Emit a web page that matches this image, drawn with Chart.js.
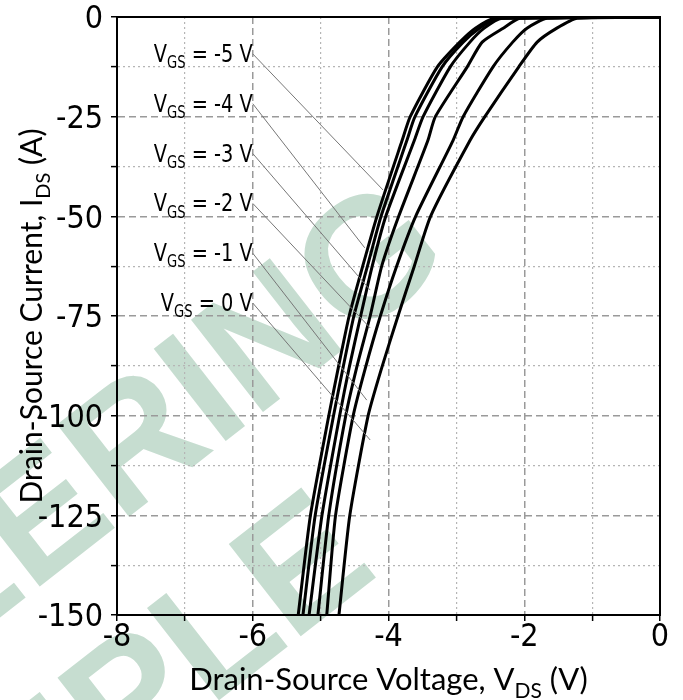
<!DOCTYPE html>
<html>
<head>
<meta charset="utf-8">
<script src="https://cdn.jsdelivr.net/npm/chart.js@4.4.1/dist/chart.umd.min.js"></script>
<style>
  html, body { margin: 0; padding: 0; background: #fff; }
</style>
</head>
<body>
<canvas id="chart" width="683" height="700"></canvas>
<script>
// drain current points (A), shared by every curve
const currents = [0, -0.3, -2.8, -6.3, -12.5, -25, -31, -50, -62.5, -75, -88, -100, -125, -150]

// drain-source voltage (V) for each gate voltage
const vdsGsN5 = [0, -2.43, -2.72, -2.95, -3.28, -3.68, -3.80, -4.17, -4.38, -4.58, -4.74, -4.88, -5.15, -5.33]
const vdsGsN4 = [0, -2.39, -2.66, -2.90, -3.21, -3.61, -3.73, -4.11, -4.31, -4.51, -4.67, -4.81, -5.08, -5.26]
const vdsGsN3 = [0, -2.33, -2.59, -2.80, -3.09, -3.49, -3.62, -4.04, -4.24, -4.41, -4.58, -4.72, -4.98, -5.17]
const vdsGsN2 = [0, -2.06, -2.31, -2.62, -2.84, -3.31, -3.42, -3.85, -4.10, -4.27, -4.47, -4.63, -4.88, -5.04]
const vdsGsN1 = [0, -1.66, -1.96, -2.17, -2.46, -2.90, -3.05, -3.60, -3.88, -4.12, -4.34, -4.52, -4.78, -4.91]
const vdsGs0  = [0, -1.22, -1.52, -1.81, -2.08, -2.58, -2.80, -3.38, -3.62, -3.86, -4.10, -4.30, -4.57, -4.73]

const gateLabels = ['-5 V', '-4 V', '-3 V', '-2 V', '-1 V', '0 V']
// label anchor (right end) and leader line end, in data units
const labelV = -6
const labelI = [-9, -21.5, -34, -46.5, -59, -71.5]
const leaderEndV = [-4.08, -4.35, -4.27, -4.27, -4.32, -4.27]
const leaderEndI = [-43.4, -57.9, -68.5, -78.0, -96.1, -106.1]

const narrow = '"Liberation Sans Narrow", "DejaVu Sans Condensed", sans-serif'
const wide = 'Lato, "Open Sans", sans-serif'

const toPoints = (vds) => vds.map((v, i) => ({ x: v, y: currents[i] }))

const allCurves = [vdsGsN5, vdsGsN4, vdsGsN3, vdsGsN2, vdsGsN1, vdsGs0]
const datasets = allCurves.map((vds, i) => ({
  label: 'VGS = ' + gateLabels[i],
  data: toPoints(vds),
  showLine: true,
  borderColor: '#000',
  borderWidth: 3,
  pointRadius: 0,
  tension: 0.2,
  fill: false
}))

// draw text made of normal and subscript parts
const drawParts = (ctx, parts, x, y, size, family, align, squeeze) => {
  const subSize = Math.round(size * 0.68)
  const k = squeeze || 1
  let total = 0
  parts.forEach(p => {
    ctx.font = (p.sub ? subSize : size) + 'px ' + family
    p.w = ctx.measureText(p.t).width
    total += p.w
  })
  ctx.save()
  ctx.translate(x, y)
  ctx.scale(k, 1)
  let cx = align === 'right' ? -total : align === 'center' ? -total / 2 : 0
  ctx.textAlign = 'left'
  ctx.textBaseline = 'alphabetic'
  parts.forEach(p => {
    ctx.font = (p.sub ? subSize : size) + 'px ' + family
    ctx.fillText(p.t, cx, p.sub ? size * 0.25 : 0)
    cx += p.w
  })
  ctx.restore()
}

const watermark = {
  id: 'watermark',
  beforeDraw(chart) {
    const ctx = chart.ctx
    ctx.save()
    ctx.fillStyle = '#fff'
    ctx.fillRect(0, 0, chart.width, chart.height)
    ctx.fillStyle = '#c6ddd0'
    ctx.font = 'bold 170px "Liberation Sans", Arial, sans-serif'
    ctx.textAlign = 'right'
    ctx.textBaseline = 'alphabetic'
    ctx.translate(455, 262)
    ctx.rotate(-38 * Math.PI / 180)
    ctx.fillText('ENGINEERING', 0, 0)
    ctx.fillText('SAMPLE', -250, 200)
    ctx.restore()
  }
}

const annotations = {
  id: 'annotations',
  afterDatasetsDraw(chart) {
    const { ctx, chartArea, scales } = chart
    const xs = scales.x, ys = scales.y
    ctx.save()
    // frame
    ctx.strokeStyle = '#000'
    ctx.lineWidth = 2
    ctx.strokeRect(chartArea.left, chartArea.top, chartArea.right - chartArea.left, chartArea.bottom - chartArea.top)
    // leader lines
    ctx.strokeStyle = '#777'
    ctx.lineWidth = 1
    gateLabels.forEach((g, i) => {
      ctx.beginPath()
      ctx.moveTo(xs.getPixelForValue(labelV), ys.getPixelForValue(labelI[i]) + 1)
      ctx.lineTo(xs.getPixelForValue(leaderEndV[i]), ys.getPixelForValue(leaderEndI[i]))
      ctx.stroke()
    })
    // labels
    ctx.fillStyle = '#000'
    gateLabels.forEach((g, i) => {
      const x = xs.getPixelForValue(labelV)
      const y = ys.getPixelForValue(labelI[i]) + 9
      drawParts(ctx, [{ t: 'V' }, { t: 'GS', sub: true }, { t: ' = ' + g }], x, y, 25, narrow, 'right', 0.86)
    })
    ctx.restore()
  },
  afterDraw(chart) {
    const { ctx, chartArea } = chart
    ctx.save()
    ctx.fillStyle = '#000'
    const cx = (chartArea.left + chartArea.right) / 2
    drawParts(ctx, [{ t: 'Drain-Source Voltage, V' }, { t: 'DS', sub: true }, { t: ' (V)' }], cx, 690, 31, wide, 'center')
    ctx.translate(42, (chartArea.top + chartArea.bottom) / 2)
    ctx.rotate(-Math.PI / 2)
    drawParts(ctx, [{ t: 'Drain-Source Current, I' }, { t: 'DS', sub: true }, { t: ' (A)' }], 0, 0, 30, wide, 'center')
    ctx.restore()
  }
}

const isMajorX = (v) => Math.abs(v % 2) < 1e-6
const isMajorY = (v) => Math.abs(v % 25) < 1e-6

new Chart(document.getElementById('chart').getContext('2d'), {
  type: 'scatter',
  data: { datasets: datasets },
  options: {
    responsive: false,
    animation: false,
    layout: { padding: { top: 17, right: 23, left: 0, bottom: 0 } },
    plugins: {
      legend: { display: false },
      tooltip: { enabled: false }
    },
    scales: {
      x: {
        type: 'linear',
        min: -8,
        max: 0,
        afterFit: (scale) => { scale.height = 85 },
        ticks: {
          stepSize: 1,
          color: '#000',
          font: { family: narrow, size: 32, lineHeight: 1 },
          padding: 1,
          maxRotation: 0,
          autoSkip: false,
          callback: (v) => isMajorX(v) ? String(v) : ''
        },
        grid: {
          color: (c) => c.tick && isMajorX(c.tick.value) ? '#9a9a9a' : '#b5b5b5',
          lineWidth: (c) => c.tick && isMajorX(c.tick.value) ? 1.5 : 1.2,
          tickColor: '#000',
          tickLength: 6,
          tickWidth: 1.5,
          tickBorderDash: []
        },
        border: {
          color: '#000',
          width: 2,
          dash: (c) => c.tick ? (isMajorX(c.tick.value) ? [7, 4] : [2, 3]) : []
        }
      },
      y: {
        type: 'linear',
        min: -150,
        max: 0,
        afterFit: (scale) => { scale.width = 117 },
        ticks: {
          stepSize: 12.5,
          color: '#000',
          font: { family: narrow, size: 32, lineHeight: 0.5 },
          padding: 8,
          labelOffset: 3,
          autoSkip: false,
          callback: (v) => isMajorY(v) ? String(v) : ''
        },
        grid: {
          color: (c) => c.tick && isMajorY(c.tick.value) ? '#9a9a9a' : '#b5b5b5',
          lineWidth: (c) => c.tick && isMajorY(c.tick.value) ? 1.5 : 1.2,
          tickColor: '#000',
          tickLength: 6,
          tickWidth: 1.5,
          tickBorderDash: []
        },
        border: {
          color: '#000',
          width: 2,
          dash: (c) => c.tick ? (isMajorY(c.tick.value) ? [7, 4] : [2, 3]) : []
        }
      }
    }
  },
  plugins: [watermark, annotations]
})
</script>
</body>
</html>
